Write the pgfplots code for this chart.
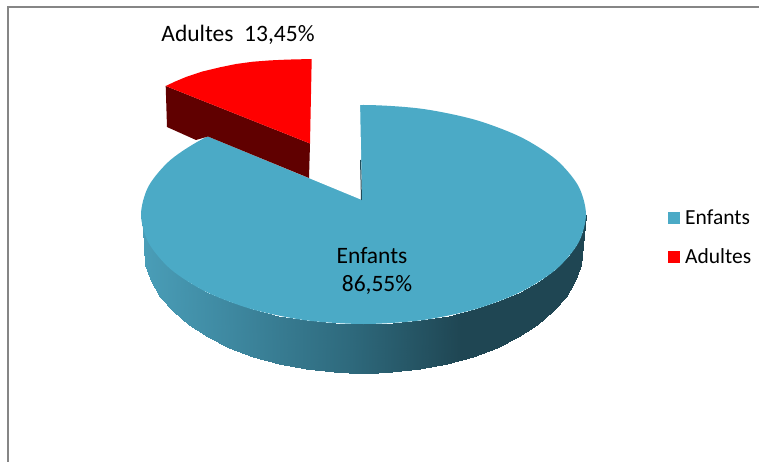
\documentclass[border=0pt]{standalone}
\usepackage{fontspec}
\setmainfont{Carlito}
\usepackage{pgfplots}
\pgfplotsset{compat=1.18}
\definecolor{enfants}{RGB}{75,170,198}
\definecolor{adultes}{RGB}{255,0,0}
\definecolor{adultesdark}{RGB}{96,0,0}
\definecolor{cadre}{RGB}{134,134,134}
\begin{document}
\begin{tikzpicture}
\useasboundingbox (0,0) rectangle (759pt,462pt);
\begin{axis}[
  at={(0,0)}, anchor=south west,
  width=759pt, height=462pt, scale only axis,
  xmin=0, xmax=759, ymin=0, ymax=462, y dir=reverse,
  hide axis, clip=true,
  colormap={paroi}{rgb255(0)=(74,158,184) rgb255(90)=(62,136,160) rgb255(210)=(46,105,124) rgb255(320)=(31,70,83) rgb255(445)=(31,70,83)},
  legend style={at={(axis cs:665,206)}, anchor=north west, draw=none, fill=none,
    font=\fontsize{21.5}{24}\selectfont, row sep=18pt},
  legend cell align=left,
]
% shaded side wall of the large slice: upper row follows the top rim, lower row the base
\addplot[surf, shader=interp, mesh/rows=2, mesh/cols=25, point meta=x, forget plot] table[row sep=\\] {
x y\\
141 214.5\\ 142.9 228.8\\ 148.6 242.8\\ 157.9 256.4\\ 170.8 269.3\\ 187 281.2\\ 206.2 291.9\\ 228 301.4\\ 252.2 309.3\\ 278.3 315.7\\ 305.9 320.3\\ 334.5 323.1\\ 363.5 324\\ 392.5 323.1\\ 421.1 320.3\\ 448.7 315.7\\ 474.8 309.3\\ 499 301.4\\ 520.8 291.9\\ 540 281.2\\ 556.2 269.3\\ 569.1 256.4\\ 578.4 242.8\\ 584.1 228.8\\ 586 214.5\\
143.5 230\\ 145.4 265.2\\ 151 281.2\\ 160.2 296.6\\ 172.9 311.3\\ 188.8 324.8\\ 207.8 337\\ 229.4 347.8\\ 253.2 356.8\\ 279 364\\ 306.2 369.3\\ 334.4 372.4\\ 363 373.5\\ 391.6 372.4\\ 419.8 369.3\\ 447 364\\ 472.8 356.8\\ 496.6 347.8\\ 518.2 337\\ 537.2 324.8\\ 553.1 311.3\\ 565.8 296.6\\ 575 281.2\\ 580.6 265.2\\ 582.5 230\\
};
% top face of the large slice
\addplot[fill=enfants, draw=none, smooth cycle, forget plot] coordinates {
(363.5,105) (421.1,108.7) (474.8,119.7) (520.8,137.1) (556.2,159.7) (578.4,186.1)
(586,214.5) (578.4,242.8) (556.2,269.3) (520.8,291.9) (474.8,309.3) (421.1,320.3)
(363.5,324) (305.9,320.3) (252.2,309.3) (206.2,291.9) (170.8,269.3) (148.6,242.8)
(141,214.5) (148.6,186.1) (170.8,159.7) (206.2,137.1) (252.2,119.7) (305.9,108.7)
};
% gap left by the pulled-out slice
\addplot[fill=white, draw=none, forget plot] coordinates {
(362,200) (207,136) (200,100) (360,100)
} -- cycle;
\addplot[color=enfants!45!black, line width=1pt, forget plot] coordinates {(360.5,160) (361.5,200)};
% pulled-out slice: cut face, then top face
\addplot[fill=adultesdark, draw=none, forget plot] coordinates {
(165.7,86) (310,143.5) (309,178) (208,136.5) (196,140) (167,127)
} -- cycle;
\addplot[fill=adultes, draw=none, forget plot] coordinates {
(165.7,86) (175,81.6) (186.7,76.7) (202,71.6) (220,67.3) (236,64) (253,61.7)
(270,60.4) (287,59.6) (311.7,59) (310,143.5)
} -- cycle;
% chart frame
\addplot[color=cadre, line width=2pt, forget plot] coordinates {(8,462) (8,7.5) (759,7.5)};
% data labels
\node[font=\fontsize{23.5}{26}\selectfont] at (axis cs:238,34.5) {Adultes\ \ 13,45\%};
\node[font=\fontsize{23.5}{26}\selectfont] at (axis cs:372,256) {Enfants};
\node[font=\fontsize{23.5}{26}\selectfont] at (axis cs:377,285) {86,55\%};
% legend
\addlegendimage{legend image code/.code={\fill[enfants,draw=none] (0pt,-6pt) rectangle (12pt,6pt); \path[draw=none,fill=none] (0pt,0pt) -- (15pt,0pt);}}
\addlegendentry{Enfants}
\addlegendimage{legend image code/.code={\fill[adultes,draw=none] (0pt,-6pt) rectangle (12pt,6pt); \path[draw=none,fill=none] (0pt,0pt) -- (15pt,0pt);}}
\addlegendentry{Adultes}
\end{axis}
\end{tikzpicture}
\end{document}
